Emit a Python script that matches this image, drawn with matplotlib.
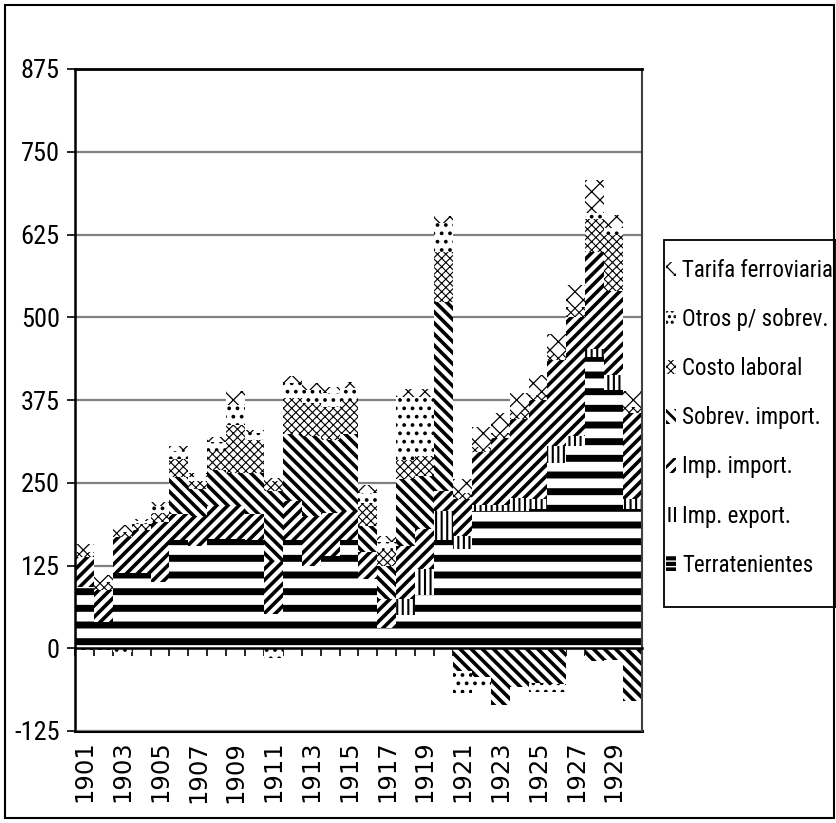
import os
import matplotlib
matplotlib.use("Agg")
import matplotlib.pyplot as plt
import numpy as np
from matplotlib.patches import Rectangle, Patch
from matplotlib import font_manager as fm

# ---------------- data ----------------
years = list(range(1901, 1931))
terratenientes = [92, 40, 113, 113, 100, 163, 155, 165, 165, 163,
                  52, 163, 125, 140, 163, 105, 30, 50, 80, 163,
                  150, 207, 207, 207, 210, 280, 305, 440, 390, 210]
imp_export = [0, 0, 0, 0, 0, 0, 0, 0, 0, 0,
              0, 0, 0, 0, 0, 0, 0, 25, 40, 45,
              20, 10, 10, 20, 15, 25, 15, 12, 23, 15]
imp_import = [46, 48, 55, 65, 90, 40, 45, 50, 50, 40,
              80, 60, 75, 65, 45, 40, 45, 80, 60, 30,
              55, 80, 100, 120, 150, 130, 180, 146, 127, 130]
sobrev_import = [0, 0, 0, 0, 0, 55, 40, 55, 50, 62,
                 105, 100, 120, 110, 115, 40, 50, 100, 80, 285,
                 -35, -43, -86, -58, -52, -54, 0, -20, -18, -79]
costo_laboral = [8, 12, 8, 10, 15, 28, 12, 28, 72, 50,
                 15, 55, 50, 50, 50, 35, 25, 30, 30, 75,
                 10, 7, 8, 8, 8, 10, 15, 50, 85, 10]
otros_sobrev = [-3, -3, -5, 4, 10, 12, 7, 14, 31, 10,
                -15, 22, 20, 20, 20, 15, 10, 95, 90, 45,
                -32, -15, 0, 0, -14, -12, 0, 10, 10, 0]
tarifa_ferro = [12, 10, 10, 3, 6, 8, 5, 7, 21, 4,
                5, 12, 10, 9, 9, 12, 10, 12, 12, 10,
                20, 30, 30, 30, 30, 30, 33, 50, 20, 23]

series_names = ["Terratenientes", "Imp. export.", "Imp. import.",
                "Sobrev. import.", "Costo laboral", "Otros p/ sobrev.",
                "Tarifa ferroviaria"]
series_values = [terratenientes, imp_export, imp_import, sobrev_import,
                 costo_laboral, otros_sobrev, tarifa_ferro]
hatches = ["-", "|||", "///", "\\\\\\", "xxxx", "..", "xx"]
hatch_lws = [5.0, 1.5, 2.6, 2.6, 0.8, 1.5, 0.9]
legend_hatches = ["---", "|||", "///", "\\\\\\", "xxxx", "...", "xx"]
legend_lws = [3.0, 1.5, 2.0, 2.0, 0.8, 1.5, 0.9]

yticks = [-125, 0, 125, 250, 375, 500, 625, 750, 875]
xlabel_years = list(range(1901, 1931, 2))


# ---------------- fonts ----------------
def pick_condensed():
    ttf = fm.fontManager.ttflist
    prefs = ["Liberation Sans Narrow", "Arial Narrow", "Nimbus Sans Narrow",
             "DejaVu Sans Condensed", "Roboto Condensed", "Noto Sans Condensed",
             "Open Sans Condensed"]
    for n in prefs:
        for f in ttf:
            if f.name == n and f.style == "normal" and f.weight in (400, "normal", "regular"):
                return f.fname
    bad = ("bold", "italic", "oblique", "light", "semi", "extra", "medium",
           "thin", "black", "ultra", "heavy", "demi")
    for key in ("narrow", "condensed"):
        for f in ttf:
            fn = os.path.basename(f.fname).lower()
            if key in fn and not any(b in fn for b in bad) and f.style == "normal":
                return f.fname
    return None


cond_path = pick_condensed()


def cfont(size):
    if cond_path:
        fp = fm.FontProperties(fname=cond_path)
        fp.set_size(size)
    else:
        fp = fm.FontProperties(family=["Liberation Sans", "DejaVu Sans"],
                               size=size * 0.84)
    return fp


# ---------------- figure ----------------
W, H = 837, 823
fig = plt.figure(figsize=(W / 100, H / 100), dpi=100)
fig.patch.set_facecolor("white")

ax = fig.add_axes([75 / W, 1 - 731 / H, (642 - 75) / W, (731 - 69) / H])
ax.set_facecolor("white")

pos_base = np.zeros(len(years))
neg_base = np.zeros(len(years))
for name, vals, hatch, hlw in zip(series_names, series_values, hatches, hatch_lws):
    v = np.array(vals, dtype=float)
    bottoms = np.where(v >= 0, pos_base, neg_base)
    with plt.rc_context({"hatch.linewidth": hlw, "hatch.color": "black"}):
        bars = ax.bar(years, v, width=1.0, bottom=bottoms, color="white",
                      edgecolor="black", linewidth=0, hatch=hatch,
                      zorder=2, label=name)
    for p in bars:
        if hasattr(p, "set_hatch_linewidth"):
            p.set_hatch_linewidth(hlw)
    pos_base += np.where(v > 0, v, 0)
    neg_base += np.where(v < 0, v, 0)

ax.set_xlim(1900.5, 1930.5)
ax.set_ylim(-125, 875)
ax.set_yticks(yticks)
ax.set_yticklabels([str(t) for t in yticks])
for lbl in ax.get_yticklabels():
    lbl.set_fontproperties(cfont(19))
ax.yaxis.grid(True, color="#808080", linewidth=1.6, zorder=0)
ax.set_axisbelow(True)
ax.tick_params(axis="y", direction="out", length=6, width=1.2, pad=5)

# category axis crossing at zero
ax.spines["bottom"].set_position(("data", 0))
ax.spines["bottom"].set_linewidth(1.8)
ax.spines["bottom"].set_zorder(5)
ax.set_xticks(np.arange(1900.5, 1931, 1.0))
ax.tick_params(axis="x", direction="out", length=6, width=1.2, labelbottom=False)
ax.spines["left"].set_linewidth(1.8)
ax.spines["top"].set_linewidth(2.0)
ax.spines["right"].set_linewidth(1.5)
ax.spines["right"].set_color("#404040")

sec = ax.secondary_xaxis(0)
sec.set_xticks(xlabel_years)
sec.set_xticklabels([str(y) for y in xlabel_years], rotation=90,
                    fontfamily=["DejaVu Sans"], fontsize=17.5)
sec.tick_params(axis="x", length=0, pad=7)
sec.spines["bottom"].set_linewidth(2.2)

# legend proxies (same patterns as the series, sized for small keys)
handles = []
for hatch, hlw in zip(legend_hatches, legend_lws):
    with plt.rc_context({"hatch.linewidth": hlw, "hatch.color": "black"}):
        hp = Patch(facecolor="white", edgecolor="black", linewidth=0, hatch=hatch)
    if hasattr(hp, "set_hatch_linewidth"):
        hp.set_hatch_linewidth(hlw)
    handles.append(hp)

order = list(range(6, -1, -1))
leg = fig.legend([handles[i] for i in order], [series_names[i] for i in order],
                 loc="upper left", bbox_to_anchor=(666 / W, 1 - 259 / H),
                 frameon=False, prop=cfont(16.5),
                 handlelength=0.42, handleheight=0.6, handletextpad=0.3,
                 labelspacing=1.14, borderpad=0.0, borderaxespad=0)
for p, hlw in zip(leg.get_patches(), [legend_lws[i] for i in order]):
    if hasattr(p, "set_hatch_linewidth"):
        p.set_hatch_linewidth(hlw)
fig.patches.append(Rectangle((664 / W, 1 - 607 / H), (836 - 664) / W, (607 - 240) / H,
                             transform=fig.transFigure, fill=False,
                             edgecolor="black", linewidth=1.3))

# outer chart border
fig.patches.append(Rectangle((5 / W, 5 / H), (834 - 5) / W, (818 - 5) / H,
                             transform=fig.transFigure, fill=False,
                             edgecolor="black", linewidth=1.5))

fig.savefig("out.png", dpi=100, facecolor="white")
